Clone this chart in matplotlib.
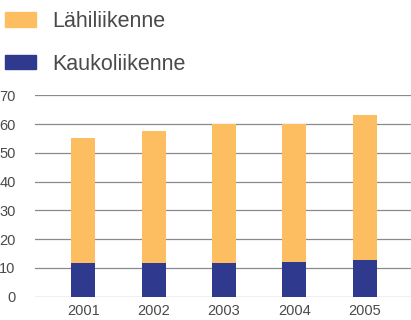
import matplotlib
matplotlib.use("Agg")
import matplotlib.pyplot as plt
import matplotlib.patches as mpatches

# vuosittaiset matkustajamäärät
vuodet = ["2001", "2002", "2003", "2004", "2005"]
kaukoliikenne = [11.6, 11.8, 11.8, 12.2, 12.6]
lahiliikenne_yht = [55.0, 57.7, 59.9, 60.0, 63.2]
lahiliikenne = [t - k for t, k in zip(lahiliikenne_yht, kaukoliikenne)]

oranssi = "#FDBE62"
sininen = "#2F3A8E"
teksti = "#4a4a4a"

plt.rcParams['font.family'] = ['Liberation Sans', 'DejaVu Sans']

fig = plt.figure(figsize=(4.11, 3.2), dpi=100)
ax = fig.add_axes([35 / 411, 23.3 / 320, 1 - 35 / 411, 201.4 / 320])

x = range(len(vuodet))
ax.bar(x, kaukoliikenne, width=0.34, color=sininen, zorder=3)
ax.bar(x, lahiliikenne, width=0.34, bottom=kaukoliikenne, color=oranssi, zorder=3)

ax.set_ylim(0, 70)
ax.set_xlim(-0.688, 4.66)
ax.set_yticks(range(0, 71, 10))
ax.set_xticks(list(x))
ax.set_xticklabels(vuodet)
ax.yaxis.grid(True, color="#8a8a8a", linewidth=0.9, zorder=0)
ax.tick_params(length=0, labelsize=10.5, colors=teksti)
ax.tick_params(axis="y", pad=14)
ax.tick_params(axis="x", pad=5)
for s in ax.spines.values():
    s.set_visible(False)

patches = [mpatches.Patch(color=oranssi, label="Lähiliikenne"),
           mpatches.Patch(color=sininen, label="Kaukoliikenne")]
fig.legend(handles=patches, loc="upper left", bbox_to_anchor=(5 / 411, 1 - 11 / 320),
           frameon=False, fontsize=15.5, labelcolor=teksti, borderpad=0, borderaxespad=0,
           handlelength=1.45, handleheight=0.68, handletextpad=0.75, labelspacing=1.0)

fig.savefig("out.png", dpi=100)
